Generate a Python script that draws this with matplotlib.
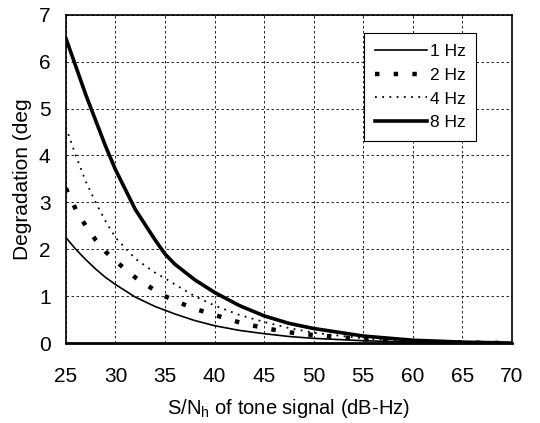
import matplotlib
matplotlib.use('Agg')
import matplotlib.pyplot as plt

plt.rcParams['font.family'] = ['Liberation Sans', 'DejaVu Sans']
plt.rcParams['mathtext.fontset'] = 'custom'
plt.rcParams['mathtext.rm'] = 'Liberation Sans'

# S/Nh of tone signal (dB-Hz)
snr = [25, 26, 27, 28, 29, 30, 32, 34, 35, 36, 38, 40, 42.5, 45, 47.5, 50, 55, 60, 65, 70]

# degradation (deg) per loop bandwidth
deg_1hz = [2.25, 2.0, 1.78, 1.58, 1.4, 1.25, 0.98, 0.78, 0.7, 0.62, 0.48, 0.37, 0.27, 0.2, 0.14, 0.1, 0.05, 0.02, 0.01, 0.0]
deg_2hz = [3.3, 2.85, 2.5, 2.2, 1.95, 1.75, 1.4, 1.12, 1.0, 0.9, 0.73, 0.6, 0.44, 0.32, 0.23, 0.17, 0.08, 0.03, 0.01, 0.0]
deg_4hz = [4.6, 4.0, 3.45, 3.0, 2.6, 2.25, 1.8, 1.5, 1.38, 1.25, 1.0, 0.8, 0.6, 0.45, 0.32, 0.22, 0.1, 0.04, 0.01, 0.0]
deg_8hz = [6.5, 5.9, 5.3, 4.75, 4.2, 3.7, 2.85, 2.2, 1.9, 1.68, 1.35, 1.08, 0.8, 0.58, 0.42, 0.31, 0.15, 0.06, 0.02, 0.0]

fig = plt.figure(figsize=(5.4, 4.23), dpi=100)
ax = fig.add_axes([0.122, 0.189, 0.826, 0.776])

ax.plot(snr, deg_1hz, color='black', lw=1.2, label='1 Hz')
ax.plot(snr, deg_2hz, color='black', lw=3.2, linestyle=(0, (1.0, 3.2)), label='2 Hz')
ax.plot(snr, deg_4hz, color='black', lw=1.3, linestyle=(0, (1, 3)), label='4 Hz')
ax.plot(snr, deg_8hz, color='black', lw=2.6, label='8 Hz')

ax.set_xlim(25, 70)
ax.set_ylim(0, 7)
ax.set_xticks(range(25, 71, 5))
ax.set_yticks(range(0, 8))
ax.grid(True, color='black', linestyle=(0, (3, 3)), lw=0.6)
ax.tick_params(length=0, labelsize=15, pad=11)
ax.tick_params(axis='x', pad=17)
for s in ax.spines.values():
    s.set_linewidth(1.2)
ax.spines['bottom'].set_linewidth(2)

ax.set_xlabel('S/N$_\\mathrm{h}$ of tone signal (dB-Hz)', fontsize=14.5, labelpad=8)
ax.set_ylabel('Degradation (deg', fontsize=15, labelpad=5)

leg = ax.legend(loc='upper right', bbox_to_anchor=(0.94, 0.97), fontsize=12.5,
                fancybox=False, framealpha=1, edgecolor='black',
                handlelength=3.0, handletextpad=0.2, labelspacing=0.5,
                borderpad=0.6)
leg.get_frame().set_linewidth(0.8)

fig.savefig('out.png', dpi=100)
